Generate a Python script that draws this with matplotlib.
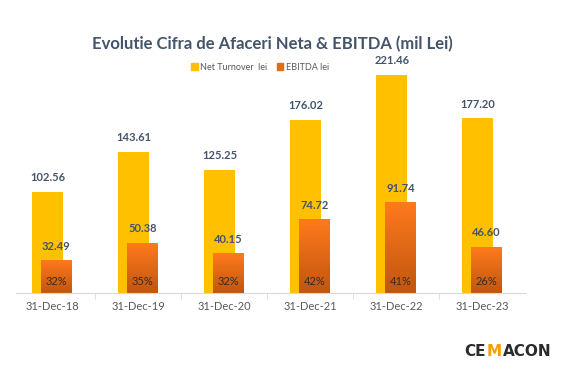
import matplotlib
matplotlib.use('Agg')
import matplotlib.pyplot as plt
import numpy as np
from matplotlib.colors import LinearSegmentedColormap
from matplotlib.patches import Patch

# chart data
periods = ['31-Dec-18', '31-Dec-19', '31-Dec-20', '31-Dec-21', '31-Dec-22', '31-Dec-23']
turnover = [102.56, 143.61, 125.25, 176.02, 221.46, 177.20]
ebitda = [32.49, 50.38, 40.15, 74.72, 91.74, 46.60]
margin = ['32%', '35%', '32%', '42%', '41%', '26%']

YELLOW = '#FFC000'
LABEL_COL = '#44546A'

plt.rcParams['font.family'] = ['Lato', 'DejaVu Sans']

fig = plt.figure(figsize=(5.85, 3.73), dpi=100)
fig.patch.set_facecolor('white')
ax = fig.add_axes([16 / 585, 80 / 373, 509 / 585, 233 / 373])

x = np.arange(len(periods))
w = 0.36
off = 0.05

ax.bar(x - off, turnover, width=w, color=YELLOW, zorder=2)

# EBITDA bars with vertical gradient
grad = LinearSegmentedColormap.from_list('eb', ['#C0560F', '#FF7A1C'])
g = np.linspace(0, 1, 256).reshape(-1, 1)
for xi, v in zip(x, ebitda):
    ax.imshow(g, cmap=grad, origin='lower', aspect='auto',
              extent=(xi + off - w / 2, xi + off + w / 2, 0, v), zorder=3)

for xi, v in zip(x, turnover):
    ax.text(xi - off, v + 9, f'{v:.2f}', ha='center', va='bottom', fontsize=8,
            fontweight='bold', color=LABEL_COL)
for xi, v, m in zip(x, ebitda, margin):
    ax.text(xi + off, v + 9, f'{v:.2f}', ha='center', va='bottom', fontsize=8,
            fontweight='bold', color=LABEL_COL, zorder=4)
    ax.text(xi + off, 12, m, ha='center', va='center', fontsize=8,
            color='#3b2a20', zorder=4)

ax.set_xlim(-0.42, 5.5)
ax.set_ylim(0, 236.5)
for s in ['top', 'right', 'left']:
    ax.spines[s].set_visible(False)
ax.spines['bottom'].set_color('#D9D9D9')
ax.spines['bottom'].set_zorder(5)
ax.set_yticks([])
ax.set_xticks(x)
ax.set_xticklabels(periods, fontsize=8, color='#595959')
ax.tick_params(axis='x', length=0, pad=6)
ax.set_xticks(np.arange(0.5, 5.5, 1), minor=True)
ax.tick_params(axis='x', which='minor', length=4, color='#D9D9D9')

fig.text(272 / 585, 1 - 44 / 373, 'Evolutie Cifra de Afaceri Neta & EBITDA (mil Lei)',
         ha='center', va='center', fontsize=12, fontweight='bold', color=LABEL_COL)

# legend
handles = [Patch(color=YELLOW, label='Net Turnover  lei'),
           Patch(color='#E46C0A', label='EBITDA lei')]
fig.legend(handles=handles, loc='center', bbox_to_anchor=(260 / 585, 1 - 67 / 373), ncol=2,
           frameon=False, fontsize=6.5, handlelength=0.7, handleheight=0.7,
           handletextpad=0.3, columnspacing=1.0, labelcolor='#595959')

# logo
ly = 1 - 351 / 373
fig.text(486 / 585, ly, 'CE', ha='right', va='center', fontsize=11, fontweight='bold',
         color='#2b2b2b', family='DejaVu Sans')
fig.text(494 / 585, ly, 'M', ha='center', va='center', fontsize=11, fontweight='bold',
         color='#F5A000', family='DejaVu Sans')
fig.text(503 / 585, ly, 'ACON', ha='left', va='center', fontsize=11, fontweight='bold',
         color='#2b2b2b', family='DejaVu Sans')

fig.savefig('out.png', dpi=100, facecolor='white')
